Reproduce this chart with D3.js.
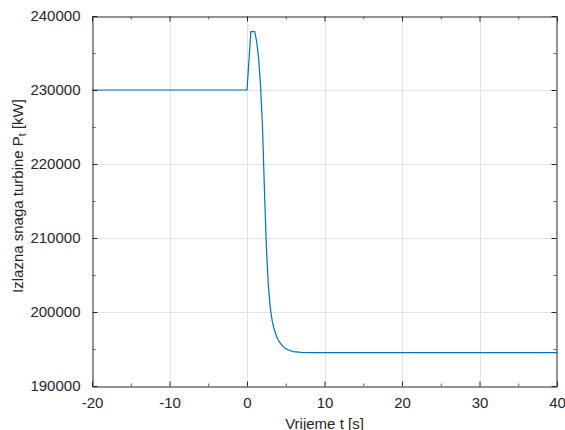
<!DOCTYPE html>
<html><head><meta charset="utf-8">
<script src="https://cdn.jsdelivr.net/npm/d3@7"></script>
<style>html,body{margin:0;padding:0;background:#fff;overflow:hidden}</style>
</head><body>
<script>
const timeValues = [-20, 0, 0.5, 1.0, 1.25, 1.5, 1.75, 2.0, 2.25, 2.5, 2.75, 3.0, 3.25, 3.5, 3.75, 4.0, 4.5, 5.0, 5.5, 6.0, 7.0, 8.0, 40];
const powerValues = [230000, 230000, 237900, 237900, 236500, 234300, 230500, 225000, 216500, 208800, 203600, 200600, 198800, 197700, 196900, 196250, 195500, 195050, 194800, 194650, 194550, 194500, 194500];
const xTicks = [-20, -10, 0, 10, 20, 30, 40];
const yTicks = [190000, 200000, 210000, 220000, 230000, 240000];
const xMinor = [-15, -5, 5, 15, 25, 35];
const yMinor = [195000, 205000, 215000, 225000, 235000];
const xLabel = "Vrijeme t [s]";
const yLabelMain = "Izlazna snaga turbine P";
const yLabelSub = "t";
const yLabelEnd = " [kW]";

(function () {
const W = 565, H = 430;
const m = {left: 92, right: 8, top: 16, bottom: 44};
const svg = d3.select("body").append("svg").attr("width", W).attr("height", H);
const x = d3.scaleLinear().domain([-20, 40]).range([m.left, W - m.right]);
const y = d3.scaleLinear().domain([190000, 240000]).range([H - m.bottom, m.top]);
const axisColor = "#262626";
const font = "'Liberation Sans', Arial, Helvetica, sans-serif";

// grid
svg.append("g").selectAll("line").data(xTicks.slice(1, -1)).join("line")
  .attr("x1", d => Math.round(x(d)) + 0.5).attr("x2", d => Math.round(x(d)) + 0.5)
  .attr("y1", y(190000)).attr("y2", y(240000))
  .attr("stroke", "#e3e3e3").attr("stroke-width", 1);
svg.append("g").selectAll("line").data(yTicks.slice(1, -1)).join("line")
  .attr("y1", d => Math.round(y(d)) + 0.5).attr("y2", d => Math.round(y(d)) + 0.5)
  .attr("x1", x(-20)).attr("x2", x(40))
  .attr("stroke", "#e3e3e3").attr("stroke-width", 1);

// line
const data = timeValues.map((t, i) => [t, powerValues[i]]);
svg.append("path").datum(data)
  .attr("fill", "none").attr("stroke", "#0072BD").attr("stroke-width", 1.2)
  .attr("stroke-linejoin", "round")
  .attr("d", d3.line().x(d => x(d[0])).y(d => y(d[1])));

// axes
const axB = d3.axisBottom(x).tickValues(xTicks).tickSizeInner(-5).tickSizeOuter(0).tickPadding(11).tickFormat(d => String(d));
const axT = d3.axisTop(x).tickValues(xTicks).tickSizeInner(-5).tickSizeOuter(0).tickFormat("");
const axL = d3.axisLeft(y).tickValues(yTicks).tickSizeInner(-5).tickSizeOuter(0).tickPadding(12).tickFormat(d => String(d));
const axR = d3.axisRight(y).tickValues(yTicks).tickSizeInner(-5).tickSizeOuter(0).tickFormat("");

function style(g) {
  g.select(".domain").attr("stroke", axisColor).attr("stroke-width", 1);
  g.selectAll(".tick line").attr("stroke", axisColor);
  g.selectAll("text").attr("fill", axisColor).style("font-family", font).style("font-size", "15px");
}
svg.append("g").attr("transform", `translate(0,${y(190000) + 0.5})`).call(axB).call(style);
svg.append("g").attr("transform", `translate(0,${y(240000) + 0.5})`).call(axT).call(style);
svg.append("g").attr("transform", `translate(${x(-20) + 0.5},0)`).call(axL).call(style);
svg.append("g").attr("transform", `translate(${x(40) - 0.5},0)`).call(axR).call(style);

// minor ticks
const minorX = d3.axisBottom(x).tickValues(xMinor).tickSizeInner(-3).tickSizeOuter(0).tickFormat("");
const minorXt = d3.axisTop(x).tickValues(xMinor).tickSizeInner(-3).tickSizeOuter(0).tickFormat("");
const minorY = d3.axisLeft(y).tickValues(yMinor).tickSizeInner(-3).tickSizeOuter(0).tickFormat("");
const minorYr = d3.axisRight(y).tickValues(yMinor).tickSizeInner(-3).tickSizeOuter(0).tickFormat("");
[[minorX, `translate(0,${y(190000) + 0.5})`], [minorXt, `translate(0,${y(240000) + 0.5})`],
 [minorY, `translate(${x(-20) + 0.5},0)`], [minorYr, `translate(${x(40) - 0.5},0)`]].forEach(([a, tr]) => {
  const g = svg.append("g").attr("transform", tr).call(a);
  g.select(".domain").remove();
  g.selectAll(".tick line").attr("stroke", "#5a5a5a");
});

// labels
svg.append("text").attr("x", (x(-20) + x(40)) / 2).attr("y", 429)
  .attr("text-anchor", "middle").attr("fill", axisColor)
  .style("font-family", font).style("font-size", "15px").text(xLabel);

const yl = svg.append("text")
  .attr("transform", `translate(23,${(y(190000) + y(240000)) / 2 - 5}) rotate(-90)`)
  .attr("text-anchor", "middle").attr("fill", axisColor)
  .style("font-family", font).style("font-size", "15px");
yl.append("tspan").text(yLabelMain);
yl.append("tspan").attr("dy", 3).style("font-size", "10.5px").text(yLabelSub);
yl.append("tspan").attr("dy", -3).text(yLabelEnd);
})();
</script>
</body></html>
